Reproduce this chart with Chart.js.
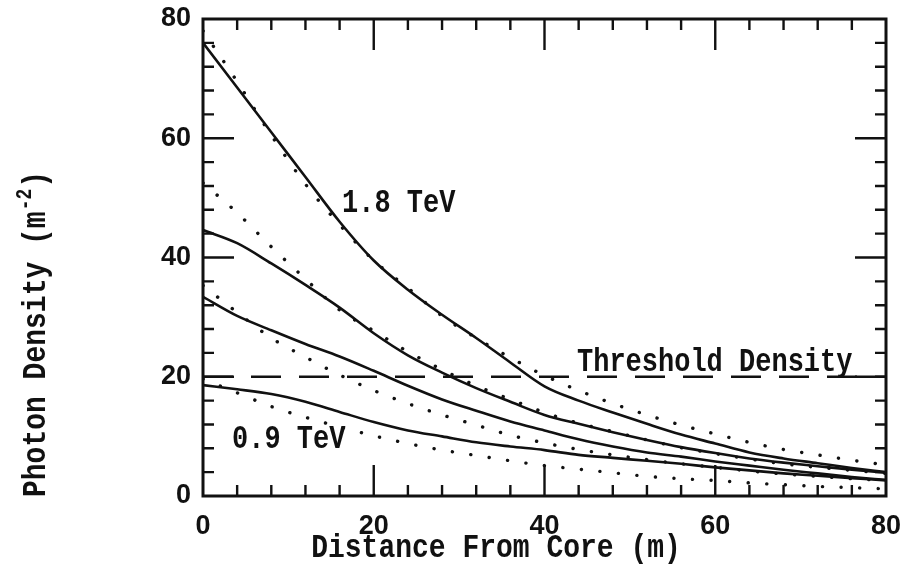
<!DOCTYPE html>
<html>
<head>
<meta charset="utf-8">
<script src="https://cdn.jsdelivr.net/npm/chart.js@4.4.1/dist/chart.umd.min.js"></script>
<style>
  html, body { margin: 0; padding: 0; background: #ffffff; }
  #wrap { width: 901px; height: 579px; position: relative; }
</style>
</head>
<body>
<div id="wrap"><canvas id="c" width="901" height="579"></canvas></div>
<script>
// ---- data ----
const distances = [0, 4, 8, 12, 16, 20, 24, 28, 32, 36, 40, 44, 48, 52, 56, 60, 64, 68, 72, 76, 80];

// solid curves (top to bottom)
const solidA = [76.0, 68.5, 61.0, 53.5, 46.0, 39.5, 34.6, 30.4, 26.5, 22.4, 18.4, 16.0, 14.0, 12.1, 10.3, 8.8, 7.3, 6.3, 5.5, 4.7, 4.0];
const solidB = [44.6, 42.4, 39.0, 35.4, 31.6, 27.3, 23.6, 20.7, 18.1, 15.8, 13.6, 12.1, 10.7, 9.4, 8.2, 7.2, 6.3, 5.6, 5.0, 4.4, 3.9];
const solidC = [33.4, 30.2, 27.8, 25.5, 23.4, 21.0, 18.5, 16.2, 14.3, 12.5, 11.0, 9.5, 8.3, 7.3, 6.6, 5.8, 5.1, 4.4, 3.8, 3.2, 2.7];
const solidD = [18.6, 17.9, 17.1, 15.8, 14.1, 12.4, 11.0, 10.0, 9.0, 8.3, 7.7, 6.9, 6.4, 5.9, 5.4, 4.8, 4.3, 3.8, 3.4, 3.0, 2.6];

// dotted curves (top to bottom)
const dottedA = [78.0, 69.5, 60.5, 52.3, 45.5, 39.5, 34.9, 30.2, 26.5, 23.2, 20.2, 17.7, 15.5, 13.6, 11.9, 10.4, 9.0, 7.8, 6.9, 6.0, 5.2];
const dottedB = [52.5, 47.5, 41.8, 36.4, 31.2, 27.7, 24.2, 21.2, 18.5, 16.2, 14.0, 12.2, 10.8, 9.4, 8.1, 7.1, 6.2, 5.4, 4.8, 4.3, 3.8];
const dottedC = [35.3, 30.8, 26.5, 23.3, 20.3, 17.7, 15.5, 13.6, 11.9, 10.2, 8.9, 7.8, 6.9, 6.1, 5.4, 4.8, 4.2, 3.7, 3.3, 2.9, 2.6];
const dottedD = [19.6, 17.3, 15.0, 13.2, 11.6, 10.1, 8.8, 7.7, 6.8, 5.9, 5.1, 4.5, 3.9, 3.3, 2.9, 2.6, 2.2, 1.9, 1.6, 1.4, 1.2];

// threshold density line
const thresholdX = [0, 80];
const thresholdY = [20, 20];

// axis ticks / labels
const xTicks = [0, 20, 40, 60, 80];
const yTicks = [0, 20, 40, 60, 80];
const minorStep = 4;

const xTitle = "Distance From Core (m)";
const yTitleMain = "Photon Density (m";
const yTitleSup = "-2";
const yTitleEnd = ")";
const labelHigh = "1.8 TeV";
const labelLow = "0.9 TeV";
const labelThreshold = "Threshold Density";

// ---- build ----
const INK = "#111111";
const pts = (xs, ys) => xs.map((x, i) => ({ x: x, y: ys[i] }));

function solid(ys) {
  return { data: pts(distances, ys), borderColor: INK, borderWidth: 2.6, pointRadius: 0,
           cubicInterpolationMode: 'monotone', fill: false };
}
function dotted(ys) {
  return { data: pts(distances, ys), borderColor: INK, borderWidth: 3.4, pointRadius: 0,
           borderDash: [0.1, 18.5], borderCapStyle: 'round',
           cubicInterpolationMode: 'monotone', fill: false };
}

const MONO = '"Liberation Mono", "DejaVu Sans Mono", monospace';
const SY = 1.2;

function drawText(ctx, s, x, y, size, align) {
  ctx.save();
  ctx.font = 'bold ' + size + 'px ' + MONO;
  ctx.textAlign = align;
  ctx.textBaseline = 'alphabetic';
  ctx.fillStyle = INK;
  ctx.translate(x, y);
  ctx.scale(1, SY);
  ctx.fillText(s, 0, 0);
  ctx.restore();
}

const decor = {
  id: 'decor',
  afterDatasetsDraw(chart) {
    const ctx = chart.ctx;
    const a = chart.chartArea;
    const xs = chart.scales.x, ys = chart.scales.y;
    ctx.save();
    ctx.strokeStyle = INK;
    ctx.lineCap = 'butt';
    // frame
    ctx.lineWidth = 3;
    ctx.strokeRect(a.left, a.top, a.right - a.left, a.bottom - a.top);
    // inward ticks on all four sides
    ctx.lineWidth = 2.4;
    for (let v = minorStep; v < 80; v += minorStep) {
      const major = xTicks.indexOf(v) >= 0;
      const L = major ? 31 : 11;
      const px = xs.getPixelForValue(v);
      ctx.beginPath();
      ctx.moveTo(px, a.bottom); ctx.lineTo(px, a.bottom - L);
      ctx.moveTo(px, a.top); ctx.lineTo(px, a.top + L);
      ctx.stroke();
      const majorY = yTicks.indexOf(v) >= 0;
      const Ly = majorY ? 31 : 11;
      const py = ys.getPixelForValue(v);
      ctx.beginPath();
      ctx.moveTo(a.left, py); ctx.lineTo(a.left + Ly, py);
      ctx.moveTo(a.right, py); ctx.lineTo(a.right - Ly, py);
      ctx.stroke();
    }
    ctx.restore();

    // annotations
    drawText(ctx, labelHigh, 342, 212, 27, 'left');
    drawText(ctx, labelLow, 232, 448, 27, 'left');
    drawText(ctx, labelThreshold, 577, 371, 27, 'left');

    // x title
    drawText(ctx, xTitle, 496, 557, 28, 'center');

    // y title (rotated) with superscript
    ctx.save();
    ctx.fillStyle = INK;
    ctx.translate(45, 497);
    ctx.rotate(-Math.PI / 2);
    ctx.scale(1, SY);
    ctx.textBaseline = 'alphabetic';
    ctx.textAlign = 'left';
    ctx.font = 'bold 28px ' + MONO;
    ctx.fillText(yTitleMain, 0, 0);
    let w = ctx.measureText(yTitleMain).width;
    ctx.font = 'bold 18px ' + MONO;
    ctx.fillText(yTitleSup, w + 1, -12);
    w += ctx.measureText(yTitleSup).width + 2;
    ctx.font = 'bold 28px ' + MONO;
    ctx.fillText(yTitleEnd, w, 0);
    ctx.restore();
  }
};

const TICKFONT = { family: '"Liberation Sans", Arial, sans-serif', size: 27, weight: 'bold' };

function noOverflow(s) {
  s.paddingLeft = 0; s.paddingRight = 0; s.paddingTop = 0; s.paddingBottom = 0;
}

new Chart(document.getElementById('c'), {
  type: 'line',
  data: {
    datasets: [
      dotted(dottedA), dotted(dottedB), dotted(dottedC), dotted(dottedD),
      { data: pts(thresholdX, thresholdY), borderColor: INK, borderWidth: 2.6, pointRadius: 0,
        borderDash: [30, 18], fill: false },
      solid(solidA), solid(solidB), solid(solidC), solid(solidD)
    ]
  },
  options: {
    responsive: false,
    animation: false,
    devicePixelRatio: 1,
    layout: { padding: { top: 19, right: 15, left: 0, bottom: 0 } },
    plugins: { legend: { display: false }, tooltip: { enabled: false } },
    scales: {
      x: {
        type: 'linear', min: 0, max: 80,
        afterBuildTicks: (s) => { s.ticks = xTicks.map(v => ({ value: v })); },
        afterFit: (s) => { s.height = 83; noOverflow(s); },
        ticks: { font: TICKFONT, color: INK, padding: 14, maxRotation: 0 },
        grid: { display: false, drawTicks: false },
        border: { display: false }
      },
      y: {
        type: 'linear', min: 0, max: 80,
        afterBuildTicks: (s) => { s.ticks = yTicks.map(v => ({ value: v })); },
        afterFit: (s) => { s.width = 203; noOverflow(s); },
        ticks: { font: TICKFONT, color: INK, padding: 12 },
        grid: { display: false, drawTicks: false },
        border: { display: false }
      }
    }
  },
  plugins: [decor]
});
</script>
</body>
</html>
